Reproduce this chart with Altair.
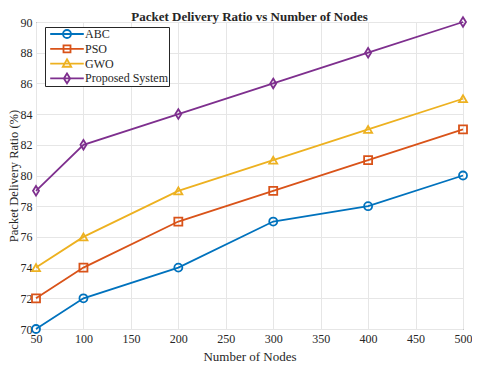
import altair as alt
import pandas as pd

nodes = [50, 100, 200, 300, 400, 500]
abc = [70, 72, 74, 77, 78, 80]
pso = [72, 74, 77, 79, 81, 83]
gwo = [74, 76, 79, 81, 83, 85]
proposed = [79, 82, 84, 86, 88, 90]
series_names = ["ABC", "PSO", "GWO", "Proposed System"]
colors = ["#0072BD", "#D95319", "#EDB120", "#7E2F8E"]
x_ticks = [50, 100, 150, 200, 250, 300, 350, 400, 450, 500]
y_ticks = [70, 72, 74, 76, 78, 80, 82, 84, 86, 88, 90]

rows = []
for name, vals in zip(series_names, [abc, pso, gwo, proposed]):
    for n, v in zip(nodes, vals):
        rows.append({"Nodes": n, "PDR": v, "Method": name})
df = pd.DataFrame(rows)

FONT = "Liberation Serif"

plot_shapes = ["circle", "square", "triangle-up", "M0,-1.2L0.75,0L0,1.2L-0.75,0Z"]
legend_shapes = [
    "M-2.4,0L2.4,0M-0.57,0A0.57,0.57,0,1,0,0.57,0A0.57,0.57,0,1,0,-0.57,0",
    "M-2.4,0L2.4,0M-0.5,-0.5L0.5,-0.5L0.5,0.5L-0.5,0.5Z",
    "M-2.4,0L2.4,0M0,-0.62L0.6,0.45L-0.6,0.45Z",
    "M-2.4,0L2.4,0M0,-0.7L0.45,0L0,0.7L-0.45,0Z",
]


def make_legend():
    return alt.Legend(
        title=None, orient="none", legendX=9, legendY=5,
        symbolOpacity=1, symbolSize=196, symbolStrokeWidth=1.8,
        symbolFillColor="transparent",
        labelFont=FONT, labelFontSize=12, labelColor="#262626",
        strokeColor="#262626", fillColor="white", padding=0,
        symbolOffset=14, labelOffset=10, rowPadding=0.8, clipHeight=14,
    )


def x_enc():
    return alt.X("Nodes:Q", scale=alt.Scale(domain=[50, 500], nice=False),
                 axis=alt.Axis(values=x_ticks, title="Number of Nodes"))


def y_enc():
    return alt.Y("PDR:Q", scale=alt.Scale(domain=[70, 90], nice=False),
                 axis=alt.Axis(values=y_ticks, tickCount=11, title="Packet Delivery Ratio (%)"))


lines = alt.Chart(df).mark_line(strokeWidth=1.8).encode(
    x=x_enc(), y=y_enc(),
    color=alt.Color("Method:N", scale=alt.Scale(domain=series_names, range=colors), legend=None),
    detail="Method:N",
)

points = alt.Chart(df).mark_point(filled=False, size=64, strokeWidth=1.8, opacity=1).encode(
    x=x_enc(), y=y_enc(),
    color=alt.Color("Method:N", scale=alt.Scale(domain=series_names, range=colors), legend=None),
    shape=alt.Shape("Method:N", scale=alt.Scale(domain=series_names, range=plot_shapes), legend=None),
)

legend_layer = alt.Chart(df).mark_point(filled=False, size=196, strokeWidth=1.8, opacity=0).encode(
    x=x_enc(), y=y_enc(),
    color=alt.Color("Method:N", scale=alt.Scale(domain=series_names, range=colors),
                    legend=make_legend()),
    shape=alt.Shape("Method:N", scale=alt.Scale(domain=series_names, range=legend_shapes),
                    legend=make_legend()),
)

chart = alt.layer(lines, points, legend_layer).resolve_scale(
    shape="independent", color="independent"
).properties(
    width=427, height=307,
    title=alt.TitleParams("Packet Delivery Ratio vs Number of Nodes", font=FONT,
                          fontSize=13, fontWeight="bold", color="#262626", offset=-10),
    autosize=alt.AutoSizeParams(type="none"),
    padding={"left": 28, "top": 14, "right": 9, "bottom": 36},
).configure_view(stroke="#262626", strokeWidth=1).configure_axis(
    labelFont=FONT, labelFontSize=12, labelColor="#262626",
    titleFont=FONT, titleFontSize=13, titleColor="#262626", titleFontWeight="normal",
    grid=True, gridColor="#e6e6e6", gridWidth=1,
    domain=False, ticks=False, labelPadding=4,
    labelOverlap=False, labelFlush=False,
).configure_axisY(titlePadding=0, titleFontSize=12.5).configure_axisX(titlePadding=6)

chart.save("out.html", embed_options={"renderer": "svg", "actions": False})
